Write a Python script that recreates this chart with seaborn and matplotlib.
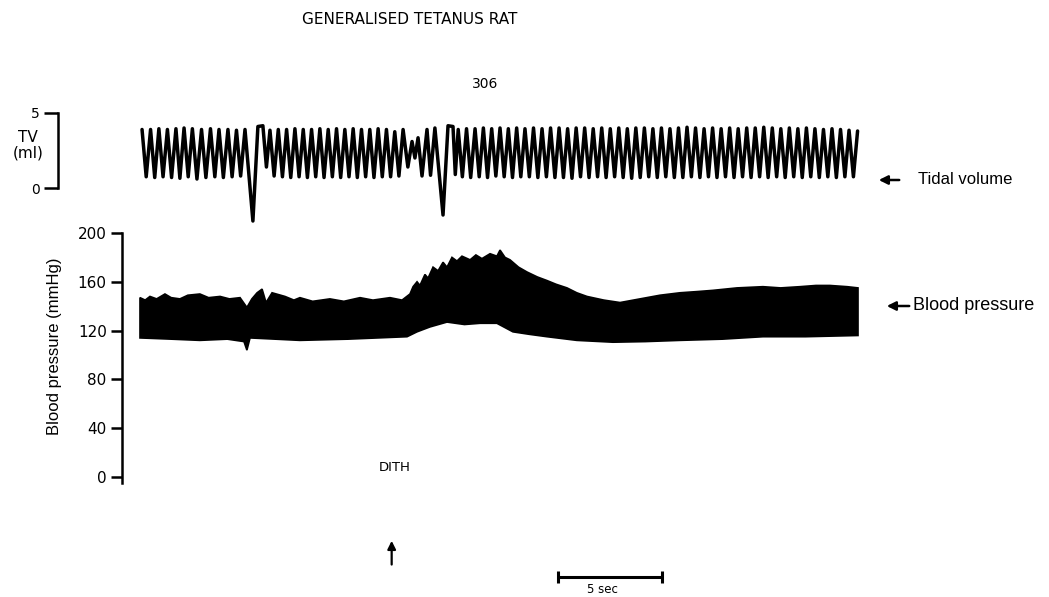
import matplotlib
matplotlib.use("Agg")
import matplotlib.pyplot as plt
import numpy as np
import seaborn as sns

sns.set_theme(style="white")
plt.rcParams["font.family"] = ["DejaVu Sans"]
plt.rcParams["text.color"] = "black"
plt.rcParams["ytick.color"] = "black"

# ---- data (time in s, TV in ml, BP in mmHg) ----
# tidal volume: breath peaks (incl. the two sighs) and troughs
peak_t = [0.10, 0.51, 0.91, 1.32, 1.73, 2.12, 2.52, 2.96, 3.39, 3.80, 4.23, 4.64, 5.05,
          5.67, 5.91,
          6.25, 6.65, 7.05, 7.45, 7.85, 8.25, 8.65, 9.05, 9.45, 9.85, 10.25, 10.65, 11.05,
          11.45, 11.85, 12.25, 12.65,
          13.08, 13.37, 13.80, 14.18,
          14.81, 15.05,
          15.30, 15.70, 16.11, 16.51, 16.91, 17.31, 17.71, 18.11, 18.51,
          18.92, 19.33, 19.74, 20.15, 20.56, 20.97, 21.38, 21.79, 22.20, 22.61, 23.02, 23.43, 23.84,
          24.25, 24.66, 25.07, 25.48, 25.89, 26.30, 26.71, 27.12, 27.53, 27.94, 28.35, 28.76, 29.17,
          29.58, 29.99, 30.40, 30.81, 31.22, 31.63, 32.04, 32.45, 32.86, 33.27, 33.68, 34.09, 34.50]
peak_ml = [3.9, 3.9, 3.95, 3.9, 3.95, 4.0, 3.95, 3.9, 3.95, 3.9, 3.9, 3.85, 3.9,
           4.1, 4.15,
           3.85, 3.9, 3.9, 3.95, 3.9, 3.9, 3.95, 3.9, 3.95, 3.9, 3.95, 3.9, 3.9,
           3.95, 3.9, 3.75, 3.9,
           3.1, 3.35, 3.9, 4.0,
           4.15, 4.1,
           3.9, 3.95, 3.95, 4.0, 3.95, 4.0, 3.95, 4.0, 3.95,
           4.0, 3.95, 4.0, 4.0, 3.95, 4.0, 4.0, 3.95, 4.0, 3.95, 4.0, 3.95, 4.0,
           4.0, 3.95, 4.0, 3.95, 4.0, 4.05, 4.0, 3.95, 4.0, 3.95, 4.0, 3.95, 4.0,
           4.0, 4.05, 4.0, 3.95, 4.0, 3.95, 4.0, 3.95, 3.9, 3.95, 3.9, 3.85, 3.8]
trough_t = [0.30, 0.71, 1.11, 1.52, 1.92, 2.32, 2.74, 3.17, 3.60, 4.01, 4.43, 4.84,
            5.43, 6.08,
            6.45, 6.85, 7.25, 7.65, 8.05, 8.45, 8.85, 9.25, 9.65, 10.05, 10.45, 10.85,
            11.25, 11.65, 12.05, 12.45,
            12.88, 13.22, 13.56, 13.97,
            14.57, 15.16,
            15.50, 15.90, 16.31, 16.71, 17.11, 17.51, 17.91, 18.31,
            18.72, 19.13, 19.54, 19.95, 20.36, 20.77, 21.18, 21.59, 22.00, 22.41, 22.82, 23.23, 23.64,
            24.05, 24.46, 24.87, 25.28, 25.69, 26.10, 26.51, 26.92, 27.33, 27.74, 28.15, 28.56, 28.97,
            29.38, 29.79, 30.20, 30.61, 31.02, 31.43, 31.84, 32.25, 32.66, 33.07, 33.48, 33.89, 34.30]
trough_ml = [0.75, 0.7, 0.75, 0.7, 0.65, 0.75, 0.6, 0.7, 0.75, 0.7, 0.75, 0.8,
             -2.2, 1.4,
             0.8, 0.75, 0.7, 0.75, 0.7, 0.75, 0.7, 0.75, 0.7, 0.75, 0.7, 0.75,
             0.7, 0.75, 0.75, 0.8,
             1.4, 2.0, 0.8, 0.85,
             -1.8, 0.9,
             0.75, 0.7, 0.75, 0.7, 0.8, 0.75, 0.7, 0.75,
             0.75, 0.7, 0.75, 0.7, 0.7, 0.65, 0.75, 0.7, 0.75, 0.7, 0.75, 0.7, 0.65,
             0.7, 0.75, 0.7, 0.75, 0.7, 0.7, 0.75, 0.7, 0.75, 0.7, 0.75, 0.7, 0.75,
             0.7, 0.75, 0.7, 0.75, 0.7, 0.75, 0.7, 0.75, 0.7, 0.75, 0.7, 0.75, 0.75]

# blood pressure envelope (systolic top / diastolic bottom of the band)
bp_up_t = [0.0, 0.25, 0.48, 0.8, 1.20, 1.5, 1.92, 2.3, 2.88, 3.3, 3.85, 4.3, 4.81, 5.14,
           5.38, 5.63, 5.87, 6.06, 6.35, 6.97, 7.4, 7.69, 8.3, 9.13, 9.8, 10.58, 11.2,
           12.02, 12.6, 12.98, 13.13, 13.32, 13.46, 13.70, 13.85, 14.09, 14.33, 14.57,
           14.76, 15.0, 15.24, 15.48, 15.87, 16.15, 16.44, 16.83, 17.16, 17.31, 17.55,
           17.79, 18.2, 18.61, 19.1, 19.57, 20.0, 20.53, 21.0, 21.49, 22.3, 23.08, 24.04,
           25.0, 25.96, 26.8, 27.55, 28.7, 29.95, 30.8, 31.73, 32.5, 33.17, 34.0, 34.52]
bp_up = [147, 145, 148, 146, 150, 147, 146, 149, 150, 147, 148, 146, 147, 139,
         146, 151, 154, 143, 151, 148, 145, 147, 144, 146, 144, 147, 145,
         147, 145, 150, 156, 160, 157, 166, 163, 172, 169, 176,
         172, 180, 177, 181, 178, 182, 179, 183, 181, 186, 180,
         178, 172, 168, 164, 161, 158, 155, 151, 148, 145, 143, 146,
         149, 151, 152, 153, 155, 156, 155, 156, 157, 157, 156, 155]
bp_lo_t = [0.0, 1.5, 2.88, 4.2, 5.0, 5.14, 5.29, 6.5, 7.69, 10.0, 12.84, 13.32, 13.94,
           14.76, 15.6, 16.35, 17.16, 17.93, 18.7, 19.57, 21.0, 22.74, 24.3, 25.96, 28.0,
           29.95, 32.0, 34.52]
bp_lo = [114, 113, 112, 113, 111, 104, 114, 113, 112, 113, 115, 119, 123,
         127, 125, 126, 126, 119, 117, 115, 112, 110.5, 111, 112, 113,
         115, 115, 116]

bp_ticks = [0, 40, 80, 120, 160, 200]
tv_ticks = [0, 5]
dith_t = 12.1          # drug given
scale_start, scale_len = 20.1, 5.0   # 5 sec bar

W, H = 1049, 597


def fx(x):
    return x / W


def fy(y):
    return 1 - y / H


fig = plt.figure(figsize=(W / 100, H / 100), dpi=100)

# ---- tidal volume panel ----
ax_tv = fig.add_axes([fx(58), fy(188), fx(1040) - fx(58), fy(113) - fy(188)])
tv_t = np.array(peak_t + trough_t)
tv_v = np.array(peak_ml + trough_ml)
order = np.argsort(tv_t)
sns.lineplot(x=tv_t[order], y=tv_v[order], ax=ax_tv, sort=False, estimator=None,
             color="black", lw=2.5, solid_joinstyle="round", clip_on=False)
ax_tv.set_xlim(-3.94, 43.27)
ax_tv.set_ylim(0, 5)
ax_tv.set_yticks(tv_ticks)
ax_tv.set_yticklabels([str(v) for v in tv_ticks], fontsize=10)
ax_tv.set_xticks([])
ax_tv.set_xlabel("")
ax_tv.set_ylabel("")
for s in ["top", "right", "bottom"]:
    ax_tv.spines[s].set_visible(False)
ax_tv.spines["left"].set_linewidth(1.8)
ax_tv.spines["left"].set_color("black")
ax_tv.tick_params(axis="y", direction="out", length=10, width=1.8, pad=3, left=True, colors="black")
ax_tv.patch.set_alpha(0)
fig.text(fx(28), fy(145), "TV\n(ml)", ha="center", va="center", fontsize=11, linespacing=1.0)

# ---- blood pressure panel ----
ax_bp = fig.add_axes([fx(122), fy(483), fx(1040) - fx(122), fy(233) - fy(483)])
poly_t = np.concatenate([bp_up_t, bp_lo_t[::-1]])
poly_v = np.concatenate([bp_up, bp_lo[::-1]])
ax_bp.fill(poly_t, poly_v, color="black", lw=1.2, ec="black")
ax_bp.set_xlim(-0.865, 43.27)
ax_bp.set_ylim(-4.9, 200)
ax_bp.set_yticks(bp_ticks)
ax_bp.set_yticklabels([str(v) for v in bp_ticks], fontsize=11)
ax_bp.set_xticks([])
for s in ["top", "right", "bottom"]:
    ax_bp.spines[s].set_visible(False)
ax_bp.spines["left"].set_linewidth(1.8)
ax_bp.spines["left"].set_color("black")
ax_bp.tick_params(axis="y", direction="out", length=8, width=1.8, pad=3, left=True, colors="black")
ax_bp.patch.set_alpha(0)
fig.text(fx(55), fy(346), "Blood pressure (mmHg)", rotation=90, ha="center", va="center",
         fontsize=12, family=["Liberation Sans", "DejaVu Sans"])

# drug marker and time bar (in BP data coordinates)
ax_bp.text(dith_t + 0.15, 7.4, "DITH", ha="center", va="center", fontsize=9.5)
ax_bp.annotate("", xy=(dith_t, -50), xytext=(dith_t, -74), annotation_clip=False,
               arrowprops=dict(arrowstyle="-|>", color="black", lw=1.6, mutation_scale=12))
ax_bp.plot([scale_start, scale_start + scale_len], [-82, -82], color="black", lw=2.2,
           clip_on=False)
ax_bp.plot([scale_start, scale_start + scale_len], [-82, -82], ls="none", marker="|",
           ms=9, mew=2.2, color="black", clip_on=False)
ax_bp.text(scale_start + scale_len / 2 - 0.35, -92, "5 sec", ha="center", va="center", fontsize=8.5)

# titles and trace labels
fig.text(fx(410), fy(19), "GENERALISED TETANUS RAT", ha="center", va="center", fontsize=11)
fig.text(fx(485), fy(84), "306", ha="center", va="center", fontsize=10)

fig.add_artist(matplotlib.patches.FancyArrowPatch((fx(902), fy(180)), (fx(876), fy(180)),
                                                  transform=fig.transFigure, arrowstyle="-|>",
                                                  mutation_scale=13, lw=1.8, color="black"))
fig.text(fx(918), fy(180), "Tidal volume", ha="left", va="center", fontsize=12,
         family=["Liberation Sans", "DejaVu Sans"])
fig.add_artist(matplotlib.patches.FancyArrowPatch((fx(912), fy(306)), (fx(884), fy(306)),
                                                  transform=fig.transFigure, arrowstyle="-|>",
                                                  mutation_scale=13, lw=1.8, color="black"))
fig.text(fx(913), fy(306), "Blood pressure", ha="left", va="center", fontsize=13,
         family=["Liberation Sans", "DejaVu Sans"])

fig.savefig("out.png", dpi=100)
